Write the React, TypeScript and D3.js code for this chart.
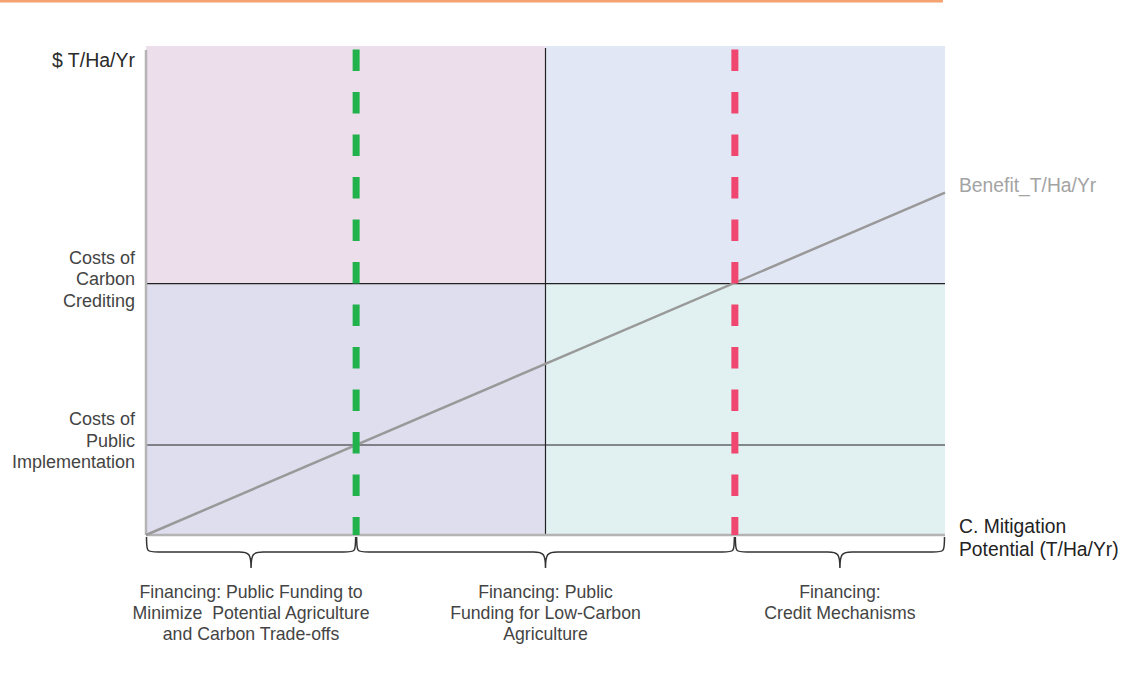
import React from "react";
import * as d3 from "d3";

// Conceptual data (units: arbitrary 0-100 scale)
const xDomain = [0, 100];
const yDomain = [0, 100];
const xMid = 50;
const thresholds = [
  { name: "public", x: 26.3, color: "#22b24c" },
  { name: "credit", x: 73.7, color: "#ef476f" },
];
const costLevels = [
  { label: ["Costs of", "Carbon", "Crediting"], y: 51.4 },
  { label: ["Costs of", "Public", "Implementation"], y: 18.4 },
];
const benefitPoints: [number, number][] = [
  [0, 0],
  [100, 70],
];
const quadrants = [
  { x0: 0, x1: 50, y0: 51.4, y1: 100, color: "#ecdeeb" },
  { x0: 50, x1: 100, y0: 51.4, y1: 100, color: "#e1e7f4" },
  { x0: 0, x1: 50, y0: 0, y1: 51.4, color: "#dfdeee" },
  { x0: 50, x1: 100, y0: 0, y1: 51.4, color: "#e1f1f1" },
];
const braces = [
  { x0: 0, x1: 26.3, label: ["Financing: Public Funding to", "Minimize  Potential Agriculture", "and Carbon Trade-offs"] },
  { x0: 26.3, x1: 73.7, label: ["Financing: Public", "Funding for Low-Carbon", "Agriculture"] },
  { x0: 73.7, x1: 100, label: ["Financing:", "Credit Mechanisms"] },
];
const yAxisTitle = "$ T/Ha/Yr";
const xAxisTitle = ["C. Mitigation", "Potential (T/Ha/Yr)"];
const benefitLabel = "Benefit_T/Ha/Yr";

const W = 1122;
const H = 679;
const left = 146;
const right = 945;
const top = 46;
const bottom = 535;

const FONT = "'Liberation Sans', Arial, Helvetica, sans-serif";

function bracePath(xa: number, xb: number, y0: number): string {
  const mid = (xa + xb) / 2;
  const h1 = 15;
  const h2 = 16;
  const r = 12;
  const y1 = y0 + h1;
  const y2 = y1 + h2;
  return [
    `M${xa},${y0}`,
    `C${xa},${y1} ${xa},${y1} ${xa + r},${y1}`,
    `L${mid - r},${y1}`,
    `C${mid - 2},${y1} ${mid},${y1 + 2} ${mid},${y2}`,
    `C${mid},${y1 + 2} ${mid + 2},${y1} ${mid + r},${y1}`,
    `L${xb - r},${y1}`,
    `C${xb},${y1} ${xb},${y1} ${xb},${y0}`,
  ].join(" ");
}

export default function App() {
  const x = d3.scaleLinear().domain(xDomain).range([left, right]);
  const y = d3.scaleLinear().domain(yDomain).range([bottom, top]);
  const line = d3
    .line<[number, number]>()
    .x((d) => x(d[0]))
    .y((d) => y(d[1]));

  return (
    <svg
      width={W}
      height={H}
      style={{ position: "absolute", left: 0, top: 0, background: "#fff" }}
      fontFamily={FONT}
    >
      <rect x={0} y={0} width={943} height={2.5} fill="#f4a270" />
      {quadrants.map((q, i) => (
        <rect
          key={i}
          x={x(q.x0)}
          y={y(q.y1)}
          width={x(q.x1) - x(q.x0)}
          height={y(q.y0) - y(q.y1)}
          fill={q.color}
        />
      ))}
      {costLevels.map((c, i) => (
        <line
          key={i}
          x1={x(0)}
          x2={x(100)}
          y1={y(c.y)}
          y2={y(c.y)}
          stroke="#222"
          strokeWidth={1.2}
        />
      ))}
      <line x1={x(xMid)} x2={x(xMid)} y1={top + 2} y2={bottom} stroke="#222" strokeWidth={1.2} />
      <line x1={left} x2={left} y1={top + 4} y2={bottom} stroke="#b4b4b4" strokeWidth={2.5} />
      <line x1={left} x2={right} y1={bottom} y2={bottom} stroke="#b4b4b4" strokeWidth={2.5} />
      <path d={line(benefitPoints) || ""} stroke="#999" strokeWidth={2.5} fill="none" />
      {thresholds.map((t) => (
        <line
          key={t.name}
          x1={x(t.x)}
          x2={x(t.x)}
          y1={top + 3.5}
          y2={bottom}
          stroke={t.color}
          strokeWidth={7}
          strokeDasharray="21.5 21"
        />
      ))}
      <text x={135} y={67} textAnchor="end" fontSize={19.5} fill="#2a2a2a">
        {yAxisTitle}
      </text>
      {costLevels.map((c, i) => (
        <text key={i} x={135} textAnchor="end" fontSize={18} fill="#444">
          {c.label.map((l, j) => (
            <tspan key={j} x={135} y={y(c.y) - 20 + j * 21.7}>
              {l}
            </tspan>
          ))}
        </text>
      ))}
      <text x={959} y={192} fontSize={19.3} fill="#a3a3a3">
        {benefitLabel}
      </text>
      <text fontSize={19.3} fill="#222">
        {xAxisTitle.map((l, j) => (
          <tspan key={j} x={959} y={533 + j * 23}>
            {l}
          </tspan>
        ))}
      </text>
      {braces.map((b, i) => (
        <g key={i}>
          <path
            d={bracePath(x(b.x0) + 0.5, x(b.x1) - 0.5, 537)}
            stroke="#333"
            strokeWidth={1.5}
            fill="none"
          />
          <text textAnchor="middle" fontSize={17.7} fill="#444" style={{ whiteSpace: "pre" }}>
            {b.label.map((l, j) => (
              <tspan key={j} x={(x(b.x0) + x(b.x1)) / 2} y={598 + j * 21}>
                {l}
              </tspan>
            ))}
          </text>
        </g>
      ))}
    </svg>
  );
}
